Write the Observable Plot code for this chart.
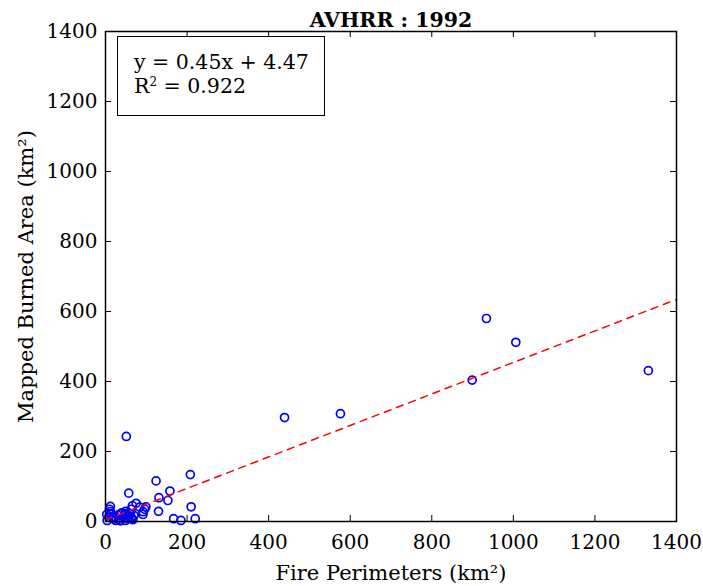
<!DOCTYPE html>
<html>
<head>
<meta charset="utf-8">
<script src="https://cdn.jsdelivr.net/npm/d3@7"></script>
<script src="https://cdn.jsdelivr.net/npm/@observablehq/plot@0.6"></script>
<style>
  html, body { margin: 0; padding: 0; background: #fff; }
  #wrap { position: relative; width: 703px; height: 586px; }
  #legend {
    position: absolute; left: 117px; top: 36px; width: 206px; height: 78px;
    border: 1.6px solid #000; background: #fff;
    font-family: "DejaVu Serif", serif; font-size: 20.5px; line-height: 22px;
    box-sizing: content-box; padding: 0;
  }
  #legend div { position: absolute; left: 16px; white-space: nowrap; }
</style>
</head>
<body>
<div id="wrap"></div>
<script>
// Data
const fireX = [1331, 934, 1006, 899, 576, 439, 51, 208, 124, 158, 57, 210, 131, 153, 75, 66, 99, 96, 92, 92, 130, 167, 185, 220,
  12, 10, 12, 13, 16, 20, 8, 4, 25, 33, 37, 49, 49, 51, 63, 61, 63, 67, 21, 45, 55, 30, 3, 40, 58, 70, 84, 53, 65, 37];
const mappedY = [431, 580, 512, 404, 308, 297, 243, 134, 116, 87, 81, 42, 68, 60, 52, 45, 42, 35, 28, 20, 29, 8, 3, 8,
  43, 35, 28, 22, 14, 7, 12, 3, 3, 6, 2, 3, 29, 22, 35, 22, 11, 5, 13, 14, 8, 18, 20, 25, 15, 17, 41, 17, 8, 22];
const slope = 0.45;
const intercept = 4.47;
const r2 = 0.922;
const xTicks = [0, 200, 400, 600, 800, 1000, 1200, 1400];
const yTicks = [0, 200, 400, 600, 800, 1000, 1200, 1400];
const titleText = "AVHRR : 1992";
const xLabel = "Fire Perimeters (km²)";
const yLabel = "Mapped Burned Area (km²)";

const points = fireX.map((x, i) => ({x, y: mappedY[i]}));
const fitLine = [xTicks[0], xTicks[xTicks.length - 1]].map(x => ({x, y: slope * x + intercept}));

const W = 703, H = 586, mL = 105, mR = 27, mT = 31, mB = 65;
const pw = W - mL - mR, ph = H - mT - mB, tk = 6;

const chart = Plot.plot({
  width: W, height: H,
  marginLeft: mL, marginRight: mR, marginTop: mT, marginBottom: mB,
  style: {fontFamily: "DejaVu Serif, serif", fontSize: "20px", background: "#fff", color: "#000"},
  x: {domain: [0, 1400]},
  y: {domain: [0, 1400]},
  marks: [
    Plot.dot(points, {x: "x", y: "y", r: 4, stroke: "blue", strokeWidth: 1.7, fill: "none"}),
    Plot.line(fitLine, {x: "x", y: "y", stroke: "red", strokeWidth: 1.5, strokeDasharray: "7,6"}),
    Plot.tickX(xTicks, {x: d => d, stroke: "#000", strokeWidth: 1, insetTop: ph - tk}),
    Plot.tickX(xTicks, {x: d => d, stroke: "#000", strokeWidth: 1, insetBottom: ph - tk}),
    Plot.tickY(yTicks, {y: d => d, stroke: "#000", strokeWidth: 1, insetRight: pw - tk}),
    Plot.tickY(yTicks, {y: d => d, stroke: "#000", strokeWidth: 1, insetLeft: pw - tk}),
    Plot.axisX({ticks: xTicks, tickSize: 0, tickPadding: 13, fontSize: 20, tickFormat: d => String(d), label: null}),
    Plot.axisY({ticks: yTicks, tickSize: 0, tickPadding: 8, fontSize: 20, tickFormat: d => String(d), label: null}),
    Plot.text([xLabel], {frameAnchor: "bottom", dy: 52, lineAnchor: "middle", textAnchor: "middle", fontSize: 21, text: d => d}),
    Plot.text([yLabel], {frameAnchor: "left", dx: -79, rotate: -90, textAnchor: "middle", lineAnchor: "middle", fontSize: 21, text: d => d}),
    Plot.text([titleText], {frameAnchor: "top", dy: -19, fontSize: 20.5, fontWeight: "bold", text: d => d}),
    Plot.frame({stroke: "#000", strokeWidth: 1.5})
  ]
});

const wrap = document.getElementById("wrap");
wrap.appendChild(chart);
const legend = document.createElement("div");
legend.id = "legend";
legend.innerHTML = `<div style="top:14px">y = ${slope}x + ${intercept}</div><div style="top:38px">R<sup style="font-size:12px;vertical-align:7px;line-height:0">2</sup> = ${r2}</div>`;
wrap.appendChild(legend);
</script>
</body>
</html>
